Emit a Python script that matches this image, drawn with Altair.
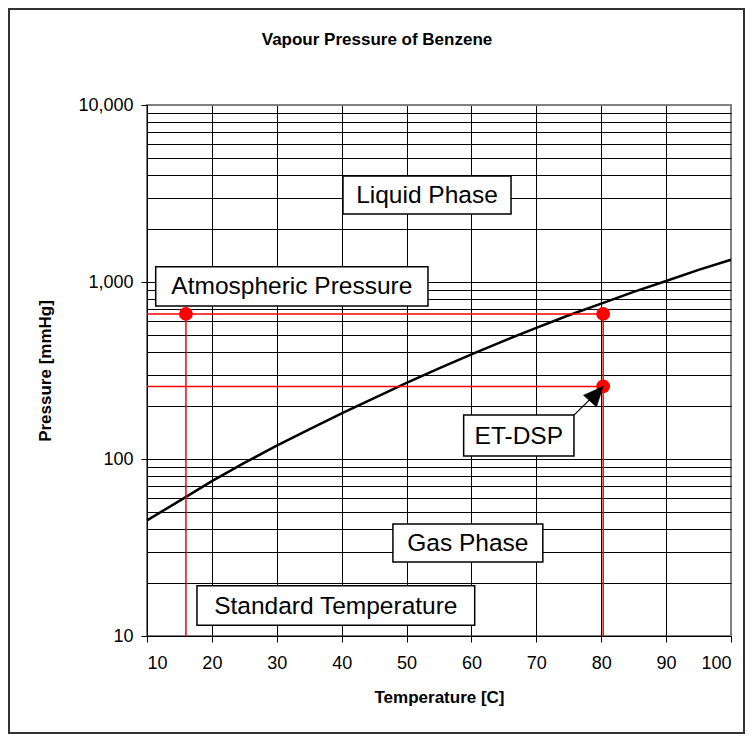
import altair as alt
import pandas as pd

# Vapour pressure curve
temps = [10, 15, 20, 25, 30, 35, 40, 45, 50, 55, 60, 65, 70, 75, 80, 85, 90, 95, 100]
pressures = [45, 58, 75, 95, 119, 147, 181, 221, 269, 325, 390, 465, 551, 649, 755, 879, 1013, 1170, 1335]

# Red markers
marker_temps = [16, 80.3, 80.3]
marker_pressures = [660, 660, 257]

# Red guide lines
seg_x1 = [10, 10, 16, 80.3]
seg_x2 = [80.3, 80.3, 16, 80.3]
seg_y1 = [660, 257, 660, 660]
seg_y2 = [660, 257, 10, 10]

# Annotation boxes (data coordinates)
box_labels = ["Liquid Phase", "Atmospheric Pressure", "ET-DSP", "Gas Phase", "Standard Temperature"]
box_x1 = [40.2, 11.34, 58.8, 47.9, 17.7]
box_x2 = [66.1, 53.3, 75.8, 71.0, 60.5]
box_y1 = [2421, 732, 104, 26.2, 11.5]
box_y2 = [3972, 1220, 177, 43.0, 19.2]

# Arrow from the ET-DSP box to its point
arrow_x1 = [75.8]
arrow_y1 = [177]
arrow_x2 = [80.3]
arrow_y2 = [257]

x_ticks = [10, 20, 30, 40, 50, 60, 70, 80, 90, 100]
y_grid = [m * d for d in (10, 100, 1000) for m in range(1, 10)] + [10000]

chart_title = "Vapour Pressure of Benzene"

FONT = "Liberation Sans"
W, H = 584, 531

curve_df = pd.DataFrame({"t": temps, "p": pressures})
marker_df = pd.DataFrame({"t": marker_temps, "p": marker_pressures})
seg_df = pd.DataFrame({"x1": seg_x1, "x2": seg_x2, "y1": seg_y1, "y2": seg_y2})
box_df = pd.DataFrame({"label": box_labels, "x1": box_x1, "x2": box_x2, "y1": box_y1, "y2": box_y2})
box_df["xc"] = (box_df["x1"] + box_df["x2"]) / 2
box_df["yc"] = (box_df["y1"] * box_df["y2"]) ** 0.5
arrow_df = pd.DataFrame({"x1": arrow_x1, "y1": arrow_y1, "x2": arrow_x2, "y2": arrow_y2})

xs = alt.Scale(domain=[10, 100], nice=False, zero=False)
ys = alt.Scale(type="log", domain=[10, 10000], nice=False)

x_axis = alt.Axis(
    values=x_ticks, grid=True,
    gridColor={"condition": {"test": "datum.value == 100", "value": "#808080"}, "value": "#000000"},
    gridWidth=1, domainColor="#000000", domainWidth=1,
    tickColor="#000000", tickSize=6,
    labelFont=FONT, labelFontSize=18, labelColor="#000000", labelPadding=12,
    title="Temperature [C]", titleFont=FONT, titleFontSize=17, titleFontWeight="bold",
    titleColor="#000000", titleY=61, titleBaseline="middle",
)
y_axis = alt.Axis(
    values=y_grid, grid=True,
    gridColor={"condition": {"test": "datum.value == 10000", "value": "#808080"}, "value": "#000000"},
    gridWidth=1, domainColor="#000000", domainWidth=1,
    tickColor="#000000", tickSize=6,
    tickOpacity={"condition": {"test": "indexof([10,100,1000,10000], datum.value) >= 0", "value": 1}, "value": 0},
    labelExpr="indexof([10,100,1000,10000], datum.value) >= 0 ? format(datum.value, ',') : ''",
    labelFont=FONT, labelFontSize=18, labelColor="#000000", labelPadding=8,
    title="Pressure [mmHg]", titleFont=FONT, titleFontSize=17, titleFontWeight="bold",
    titleColor="#000000", titleX=-102, titleY=H / 2, titleBaseline="middle",
)

curve = alt.Chart(curve_df).mark_line(color="#000000", strokeWidth=2.5).encode(
    x=alt.X("t:Q", scale=xs, axis=x_axis),
    y=alt.Y("p:Q", scale=ys, axis=y_axis),
)

segs = alt.Chart(seg_df).mark_rule(color="#FF0000", strokeWidth=1.5).encode(
    x=alt.X("x1:Q", scale=xs), x2="x2:Q",
    y=alt.Y("y1:Q", scale=ys), y2="y2:Q",
)

dots = alt.Chart(marker_df).mark_circle(color="#FF0000", opacity=1, size=190).encode(
    x=alt.X("t:Q", scale=xs),
    y=alt.Y("p:Q", scale=ys),
)

boxes = alt.Chart(box_df).mark_rect(fill="#FFFFFF", stroke="#000000", strokeWidth=1.5).encode(
    x=alt.X("x1:Q", scale=xs), x2="x2:Q",
    y=alt.Y("y1:Q", scale=ys), y2="y2:Q",
)

texts = alt.Chart(box_df).mark_text(font=FONT, fontSize=24.5, color="#000000", baseline="middle", align="center", dy=1).encode(
    x=alt.X("xc:Q", scale=xs),
    y=alt.Y("yc:Q", scale=ys),
    text="label:N",
)

arrow_line = alt.Chart(arrow_df).mark_rule(color="#000000", strokeWidth=1.2).encode(
    x=alt.X("x1:Q", scale=xs), x2="x2:Q",
    y=alt.Y("y1:Q", scale=ys), y2="y2:Q",
)

arrow_head = alt.Chart(arrow_df).mark_point(
    shape="M0,0L0.8,1.8L-0.8,1.8Z", filled=True, fill="#000000", stroke="#000000",
    strokeWidth=0.5, opacity=1, size=480, angle=42,
).encode(
    x=alt.X("x2:Q", scale=xs),
    y=alt.Y("y2:Q", scale=ys),
)

title_mark = alt.Chart(pd.DataFrame({"title": [chart_title]})).mark_text(
    font=FONT, fontSize=17, fontWeight="bold", color="#000000",
    align="center", baseline="middle",
).encode(x=alt.value(230), y=alt.value(-65), text="title:N")

frame = alt.Chart(pd.DataFrame({"k": [0]})).mark_rect(
    fill="transparent", stroke="#333333", strokeWidth=2, clip=False,
).encode(
    x=alt.value(-138), x2=alt.value(597), y=alt.value(-96), y2=alt.value(628),
)

chart = alt.layer(curve, segs, dots, boxes, texts, arrow_line, arrow_head, title_mark, frame).properties(
    width=W, height=H,
    autosize=alt.AutoSizeParams(type="none"),
    padding={"left": 139, "top": 97, "right": 14, "bottom": 100},
).configure_view(stroke="#808080", strokeWidth=2)

chart.save("out.html", embed_options={"renderer": "svg", "actions": False})
